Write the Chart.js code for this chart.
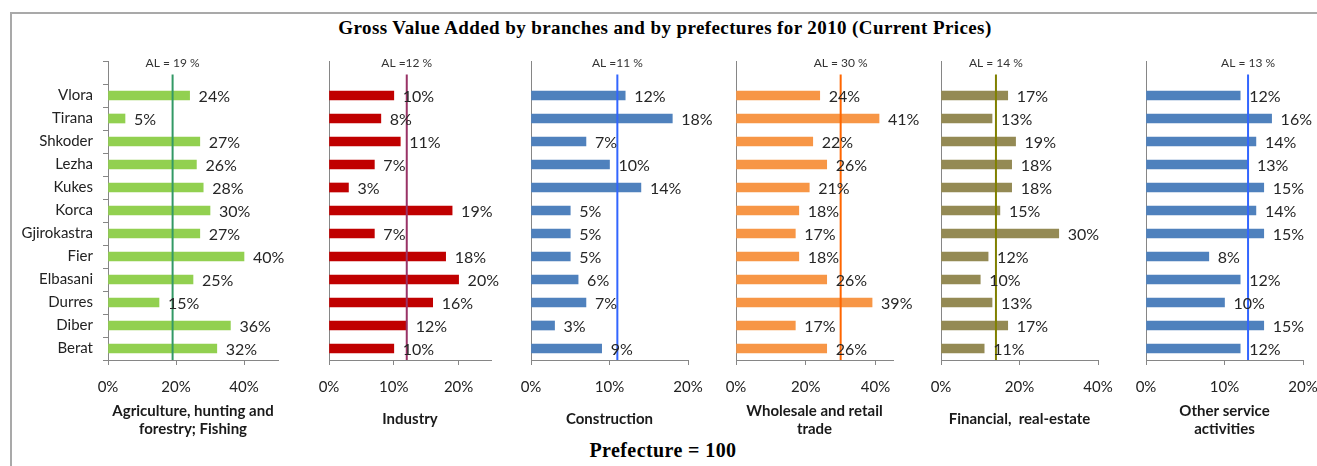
<!DOCTYPE html>
<html>
<head>
<meta charset="utf-8">
<title>Gross Value Added by branches and by prefectures for 2010</title>
<script src="https://cdn.jsdelivr.net/npm/chart.js/dist/chart.umd.min.js"></script>
<style>
  body { margin: 0; width: 1317px; height: 466px; overflow: hidden; background: #fff; position: relative; }
  .frame { position: absolute; left: 10px; top: 12px; width: 1320px; height: 470px;
           border-top: 2px solid #a9a9a9; border-left: 2px solid #a9a9a9; }
  .title { position: absolute; left: 0; width: 1330px; top: 17px; text-align: center; letter-spacing: 0.4px;
           font: bold 19px "Liberation Serif", "Times New Roman", serif; color: #000; }
  .foot { position: absolute; left: 0; width: 1326px; top: 439px; text-align: center; letter-spacing: 0.4px;
          font: bold 20px "Liberation Serif", "Times New Roman", serif; color: #000; }
  canvas { position: absolute; }
</style>
</head>
<body>
<div class="frame"></div>
<div class="title">Gross Value Added by branches and by prefectures for 2010 (Current Prices)</div>
<div class="foot">Prefecture = 100</div>

<script>
// prefectures, top to bottom as in the picture
const prefectures = ['Vlora', 'Tirana', 'Shkoder', 'Lezha', 'Kukes', 'Korca',
                     'Gjirokastra', 'Fier', 'Elbasani', 'Durres', 'Diber', 'Berat'];

// branch shares (%) per prefecture
const agriculture  = [24, 5, 27, 26, 28, 30, 27, 40, 25, 15, 36, 32];
const industry     = [10, 8, 11, 7, 3, 19, 7, 18, 20, 16, 12, 10];
const construction = [12, 18, 7, 10, 14, 5, 5, 5, 6, 7, 3, 9];
const wholesale    = [24, 41, 22, 26, 21, 18, 17, 18, 26, 39, 17, 26];
const financial    = [17, 13, 19, 18, 18, 15, 30, 12, 10, 13, 17, 11];
const otherService = [12, 16, 14, 13, 15, 14, 15, 8, 12, 10, 15, 12];

const branchTitles = [['Agriculture, hunting and', 'forestry; Fishing'], 'Industry', 'Construction',
                      ['Wholesale and retail', 'trade'], 'Financial,  real-estate', ['Other service', 'activities']];

// national average (AL) per branch
const alValues = [19, 12, 11, 30, 14, 13];
const alLabels = ['AL = 19 %', 'AL =12 %', 'AL =11 %', 'AL = 30 %', 'AL = 14 %', 'AL = 13 %'];

// x axis range and tick labels per panel
const axisMax = [50, 25, 20, 45, 40, 20];
const xTicks = [[0, 20, 40], [0, 10, 20], [0, 10, 20], [0, 20, 40], [0, 20, 40], [0, 10, 20]];

const series = [agriculture, industry, construction, wholesale, financial, otherService];

// layout / colours of the six small charts
const panels = [
  { left: 12,   width: 296, yw: 96, bar: '#92D050', line: '#339966' },
  { left: 301,  width: 220, yw: 28, bar: '#C00000', line: '#993366' },
  { left: 503,  width: 215, yw: 28, bar: '#4F81BD', line: '#3366FF' },
  { left: 708,  width: 215, yw: 28, bar: '#F79646', line: '#FF6600' },
  { left: 913,  width: 215, yw: 28, bar: '#948A54', line: '#808000' },
  { left: 1118, width: 215, yw: 28, bar: '#4F81BD', line: '#3366FF' }
];

Chart.defaults.font.family = 'Lato, "Open Sans", sans-serif';
Chart.defaults.font.size = 15;
Chart.defaults.color = '#222';

const axisGrey = '#868686';

// the AL reference line, drawn with the x scale
const alLine = {
  id: 'alLine',
  afterDatasetsDraw(chart, args, opts) {
    const { ctx, chartArea, scales: { x, y } } = chart;
    const px = x.getPixelForValue(opts.value);
    ctx.save();
    ctx.strokeStyle = opts.color;
    ctx.lineWidth = 2;
    ctx.beginPath();
    ctx.moveTo(px, y.getPixelForValue(0) + 2);
    ctx.lineTo(px, chartArea.bottom);
    ctx.stroke();
    ctx.font = '12px Lato, sans-serif';
    ctx.fillStyle = '#333';
    ctx.textAlign = 'center';
    ctx.textBaseline = 'middle';
    ctx.fillText(opts.label, px, chartArea.top + 2);
    ctx.restore();
  }
};

// value labels at the end of each bar
const barLabels = {
  id: 'barLabels',
  afterDatasetsDraw(chart) {
    const ctx = chart.ctx;
    const ds = chart.data.datasets[0];
    ctx.save();
    ctx.font = '16px Lato, sans-serif';
    ctx.fillStyle = '#262626';
    ctx.textBaseline = 'middle';
    chart.getDatasetMeta(0).data.forEach((bar, i) => {
      const v = ds.data[i];
      if (v == null) return;
      ctx.fillText(v + '%', bar.x + 9, bar.y + 1);
    });
    ctx.restore();
  }
};

// empty first row keeps the space for the AL label
const labels = [''].concat(prefectures);

panels.forEach((p, i) => {
  const canvas = document.createElement('canvas');
  canvas.width = p.width;
  canvas.height = 420;
  canvas.style.left = p.left + 'px';
  canvas.style.top = '40px';
  document.body.appendChild(canvas);

  const twoLines = Array.isArray(branchTitles[i]);

  new Chart(canvas, {
    type: 'bar',
    data: {
      labels: labels,
      datasets: [{
        data: [null].concat(series[i]),
        backgroundColor: p.bar,
        borderWidth: 0,
        barThickness: 9
      }]
    },
    options: {
      indexAxis: 'y',
      responsive: false,
      animation: false,
      layout: { padding: { top: 21, right: 30, bottom: 0, left: 0 } },
      plugins: {
        legend: { display: false },
        tooltip: { enabled: false },
        alLine: { value: alValues[i], label: alLabels[i], color: p.line }
      },
      scales: {
        x: {
          min: 0,
          max: axisMax[i],
          afterBuildTicks: s => { s.ticks = xTicks[i].map(v => ({ value: v })); },
          afterFit: s => { s.height = 100; },
          ticks: { callback: v => v + '%', padding: 13, color: '#222' },
          grid: { drawOnChartArea: false, drawTicks: true, tickLength: 5, color: axisGrey },
          border: { display: true, color: axisGrey },
          title: {
            display: true,
            text: branchTitles[i],
            font: { size: 15, weight: 'bold' },
            color: '#1a1a1a',
            padding: { top: 0, bottom: twoLines ? 22 : 32 }
          }
        },
        y: {
          afterFit: s => { s.width = p.yw; },
          ticks: { display: i === 0, padding: 10, color: '#222' },
          grid: { display: i === 0, drawOnChartArea: false, offset: true, tickLength: 5, color: axisGrey },
          border: { display: true, color: axisGrey }
        }
      }
    },
    plugins: [alLine, barLabels]
  });
});
</script>
</body>
</html>
